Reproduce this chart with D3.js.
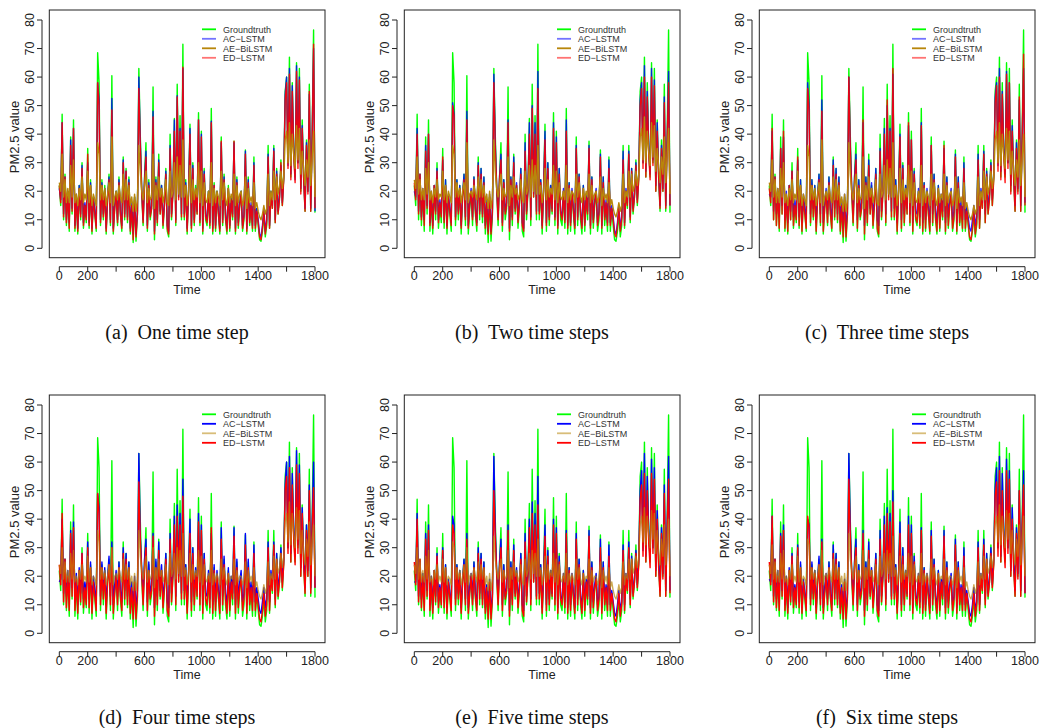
<!DOCTYPE html>
<html>
<head>
<meta charset="utf-8">
<script src="https://d3js.org/d3.v7.min.js"></script>
<style>
  body { margin: 0; background: #fff; }
  svg text { font-family: "Liberation Sans", Arial, sans-serif; }
  .caption { font-family: "Liberation Serif", "Times New Roman", serif; white-space: pre; }
</style>
</head>
<body>
<svg width="1040" height="728"></svg>
<script>
// values read every 10 time steps, 0..1800
var timeStep = 10;
var xTicks = [0, 200, 400, 600, 800, 1000, 1200, 1400, 1600, 1800];
var xLabels = [0, 200, 600, 1000, 1400, 1800];
var yTicks = [0, 10, 20, 30, 40, 50, 60, 70, 80];
var seriesNames = ["Groundtruth", "AC\u2212LSTM", "AE\u2212BiLSTM", "ED\u2212LSTM"];
var captions = ["(a)  One time step", "(b)  Two time steps", "(c)  Three time steps",
                "(d)  Four time steps", "(e)  Five time steps", "(f)  Six time steps"];

var groundtruth = [22,15,47,10,26,8,20,6,39,12, 45,6,18,5,22,10,30,7,15,9, 35,7,24,5,18,12,6,68.5,58,8,
  24,10,22,5,18,26,8,60.5,5,14, 20,8,25,12,6,32,10,28,9,25, 5,15,2,18,2.5,12,63,40,20,8,
  25,37,6,24,10,14,56.5,3,25,8, 33,12,22,7,15,28,6,4,40,10, 20,45.5,8,57.5,18,46.5,10,71.5,10,24,
  5,20,43.5,6,30,8,22,12,47.5,8, 41,5,28,10,8,20,7,49,5,23, 6,20,12,5,39,8,26,10,5,22,
  6,18,10,37.5,5,25,7,15,20,6, 10,34.5,5,25,8,15,6,32,6,14, 8,3,2.5,6,12,4,8,36,7,20,
  14,36,9,28,12,18,31,15,25,55, 60,30,67,25,58,35,25,65,30,63, 20,45,25,13,38,20,57.5,13,40,76.5, 12.5];

var ac1 = [21,17,44,12,25,10,20,9,38,14, 42,8,19,7,22,12,29,9,16,11, 30,9,23,7,18,13,8,58,52,10,
  23,12,21,7,18,25,10,52.5,7,15, 20,10,24,13,8,31,12,27,11,24, 7,16,5,18,5,13,60,38,21,10,
  24,34,8,23,12,15,48,6,24,10, 31,13,22,9,16,27,8,6,36,12, 20,45,10,53.5,18,42,12,63,12,23,
  7,20,42,8,29,10,21,13,45,10, 40,7,27,12,10,20,9,44.5,7,22, 8,20,13,7,37,10,25,12,7,21,
  8,18,12,37,7,24,9,16,20,8, 12,34,7,24,10,16,8,30,8,14, 10,5,4,8,14,6,10,33,8,20,
  15,35,10,27,13,18,29,16,25,54, 60,29,63,26,57,34,24,64,30,60, 21,43,25,14,37,20,54,14,39,70, 13];
var ed1 = [22,16,44,11,25,9,19,7,36,13, 42,7,18,6,21,11,28,8,15,10, 33,8,22,6,17,12,7,58,50,9,
  22,11,20,6,17,24,9,48.5,6,14, 19,9,23,12,7,30,11,27,10,23, 6,15,3,17,4,12,56,36,20,9,
  23,32,7,22,11,14,46,5,23,9, 30,12,21,8,15,26,7,5,35,11, 19,41,9,53,17,41,11,63.5,11,22,
  6,19,40,7,28,9,20,12,45,9, 39,6,26,11,9,19,8,44,6,22, 7,19,12,6,37.5,9,24,11,6,21,
  7,17,11,37.5,6,23,8,15,19,7, 11,33,6,23,9,15,7,29,7,13, 9,4,3,7,13,5,9,32,7,19,
  14,34,9,26,12,17,30,15,24,52, 58,28,61,24,55,33,23,62,28,59, 19,42,24,13,36,19,55,13,38,71.5, 14];
var ae1 = [23,20,33,18,24,16,21,16,29,18, 31,16,19,15,21,17,25,16,19,17, 27,16,22,15,19,17,15,37,33,17,
  22,17,21,15,19,23,16,39,15,18, 20,17,22,18,16,26,17,24,17,22, 15,18,13,19,13,17,36,27,20,17,
  22,27,16,21,17,18,33,14,22,17, 25,18,21,16,19,24,16,15,27,18, 20,30,17,32,19,29,18,38,18,22,
  15,20,29,16,24,17,21,18,30,16, 27,15,23,17,16,20,16,30,15,21, 16,20,18,15,27,17,23,17,15,21,
  16,19,17,26,15,22,16,19,20,15, 17,25,14,21,16,18,15,23,14,16, 13,11,10,12,15,12,14,26,15,20,
  17,27,17,25,19,22,27,21,25,38, 41,30,44,29,40,33,28,43,31,42, 26,34,28,22,31,25,38,22,32,41, 18];

var ac2 = [20,18,42,13,26,11,21,10,36,15, 40,9,20,8,22,13,28,10,17,12, 31,10,24,8,19,14,9,51,47,11,
  24,13,22,8,19,26,11,48,8,16, 21,11,25,14,9,30,13,28,12,25, 8,17,6,19,6,14,61,37,22,11,
  25,33,9,24,13,16,45,7,25,11, 32,14,23,10,17,28,9,7,37,13, 21,44,11,50,19,44,13,62,13,24,
  8,21,41,9,30,11,22,14,44,11, 39,8,28,13,11,21,10,45,8,23, 9,21,14,8,36,11,26,13,8,22,
  9,19,13,36,8,25,10,17,21,9, 13,33,8,25,11,17,9,31,9,15, 11,6,5,9,15,7,11,34,9,21,
  16,34,11,28,14,19,30,17,26,52, 58,30,64,27,55,35,26,63,31,59, 22,44,26,15,36,21,53,15,38,62, 15];
var ed2 = [23,17,40,12,26,10,20,8,34,14, 40,8,19,7,22,12,27,9,16,11, 32,9,22,7,18,13,8,50,46,10,
  22,12,21,7,18,24,10,45,7,15, 20,10,24,13,8,29,12,26,11,23, 7,16,5,18,5,13,58,35,21,10,
  24,31,8,23,12,15,44,6,24,10, 30,13,22,9,16,26,8,6,34,12, 20,40,10,49,18,40,12,56,12,23,
  7,20,38,8,28,10,21,13,42,10, 37,7,26,12,10,20,9,41,7,22, 8,20,13,7,35,10,25,12,7,21,
  8,18,12,35,7,24,9,16,20,8, 12,32,7,23,10,16,8,28,8,14, 10,5,4,8,14,6,10,31,8,20,
  15,33,10,27,13,18,29,16,24,50, 56,28,60,25,53,33,24,60,29,57, 20,41,25,14,35,20,51,14,37,58, 15];
var ae2 = [24,21,32,19,24,17,21,17,28,19, 30,17,20,16,21,18,24,17,19,18, 27,17,22,16,20,18,16,36,33,18,
  23,18,21,16,20,23,17,37,16,19, 20,18,22,19,17,25,18,24,18,22, 16,19,14,20,14,18,38,27,21,18,
  22,26,17,21,18,19,32,15,22,18, 25,19,21,17,19,24,17,16,27,19, 21,29,18,31,20,29,19,36,19,22,
  16,20,28,17,24,18,21,19,29,17, 27,16,23,18,17,20,17,29,16,21, 17,20,19,16,26,18,23,18,16,21,
  17,20,18,26,16,22,17,19,20,16, 18,25,15,21,17,19,16,23,15,17, 14,12,11,13,16,13,15,26,16,20,
  18,27,18,26,20,22,27,22,26,39, 42,31,46,30,41,34,29,44,32,43, 27,35,29,23,32,26,39,23,33,42, 19];

var ac3 = [19,18,41,13,25,12,21,11,35,15, 39,10,20,9,22,13,27,11,17,12, 31,11,24,9,19,14,10,58,50,12,
  24,14,22,9,19,26,12,52,9,16, 21,12,25,14,10,31,14,28,12,25, 9,17,7,19,7,14,60,36,22,12,
  25,33,10,24,13,16,44,8,25,12, 31,14,23,11,17,28,10,8,35,13, 21,42,12,50,19,42,13,61,14,24,
  9,21,40,10,29,12,22,14,43,12, 38,9,27,13,12,21,11,44,9,23, 10,21,14,9,36,12,26,13,9,22,
  10,19,13,35,9,25,11,17,21,10, 13,33,9,25,12,17,10,30,10,15, 11,7,6,10,15,8,11,33,10,21,
  16,34,12,27,14,19,30,17,26,53, 58,29,63,27,55,35,26,62,30,58, 22,43,26,15,37,21,52,15,38,63, 16];
var ed3 = [21,16,42,10,25,8,19,7,35,12, 41,7,18,6,22,10,27,8,15,10, 32,8,22,6,17,12,7,56,48,9,
  22,11,20,6,17,24,9,48,6,14, 19,9,23,12,7,29,11,26,10,23, 6,15,4,17,4,12,60,35,20,9,
  23,31,7,22,11,14,45,5,23,9, 29,12,21,8,15,26,7,5,34,11, 19,40,9,52,17,41,11,63,11,22,
  6,19,39,7,28,9,20,12,44,9, 38,6,26,11,9,19,8,43,6,22, 7,19,12,6,36,9,24,11,6,21,
  7,17,11,36,6,23,8,15,19,7, 11,32,6,23,9,15,7,28,7,13, 9,4,3,7,13,5,9,31,7,19,
  14,33,9,26,12,17,29,15,24,51, 57,27,60,24,54,33,23,61,28,58, 19,41,24,13,35,19,53,13,38,68, 15];
var ae3 = [23,20,31,18,24,16,21,16,28,18, 30,16,19,15,21,17,24,16,19,17, 27,16,22,15,19,17,15,36,32,17,
  22,17,21,15,19,23,16,38,15,18, 20,17,22,18,16,25,17,24,17,22, 15,18,13,19,13,17,37,26,20,17,
  22,26,16,21,17,18,32,14,22,17, 25,18,21,16,19,24,16,15,26,18, 20,29,17,31,19,28,18,37,18,22,
  15,20,28,16,24,17,21,18,29,16, 27,15,23,17,16,20,16,29,15,21, 16,20,18,15,26,17,23,17,15,21,
  16,19,17,26,15,22,16,19,20,15, 17,25,14,21,16,18,15,23,14,16, 13,11,10,12,15,12,14,25,15,20,
  17,27,17,25,19,22,27,21,25,38, 41,30,44,29,40,33,28,42,31,41, 26,34,28,22,31,25,38,22,32,40, 18];

var ac4 = [18,19,40,14,26,13,22,12,36,16, 39,11,21,10,23,14,28,12,18,13, 32,12,25,10,20,15,11,49,44,13,
  25,15,23,10,20,27,13,32,10,17, 22,13,25,15,11,30,15,28,13,25, 10,18,8,20,8,15,63,34,23,13,
  26,33,11,25,14,17,35,9,26,13, 32,15,24,12,18,28,11,9,35,14, 22,41,13,45,20,42,14,54,15,24,
  10,22,40,11,30,13,23,15,42,13, 38,10,28,14,13,22,12,35,10,24, 11,22,15,10,37,13,27,14,10,23,
  11,20,14,37,10,26,12,18,22,11, 14,35,10,26,13,18,11,31,11,16, 12,8,7,11,16,9,12,32,11,22,
  17,32,12,28,15,20,30,18,26,52, 60,30,62,28,56,36,27,64,31,59, 23,44,27,16,38,22,52,16,39,60, 16];
var ed4 = [24,17,42,11,26,9,20,8,35,13, 37,8,19,7,22,11,28,9,16,10, 30,9,23,7,18,13,8,49,42,10,
  23,12,21,7,18,24,10,30,7,14, 20,10,23,13,8,28,12,26,10,23, 7,16,5,18,5,13,53,33,21,10,
  23,30,8,22,12,15,34,6,23,10, 29,13,22,9,16,26,8,6,33,11, 20,38,10,41,18,38,12,48,12,22,
  7,20,35,8,28,10,21,13,39,10, 36,7,26,12,10,20,9,37,7,22, 8,20,13,7,33,10,24,12,7,21,
  8,18,12,34,7,23,9,16,19,8, 12,31,7,23,10,16,8,28,8,14, 10,5,4,8,14,6,10,30,8,20,
  15,31,10,26,13,18,28,16,24,50, 55,28,58,25,52,33,24,59,28,56, 20,42,24,14,36,20,50,14,37,51, 16];
var ae4 = [24,21,30,19,25,18,22,18,28,19, 29,18,20,17,22,19,24,18,20,18, 27,18,23,17,20,19,17,36,32,19,
  23,19,22,17,20,24,18,30,17,20, 21,19,23,20,18,26,19,24,19,23, 17,20,15,21,15,19,36,27,22,19,
  23,27,18,22,19,20,30,16,23,19, 26,20,22,18,20,24,18,17,28,20, 22,28,19,30,21,29,20,35,20,23,
  17,21,28,18,24,19,22,20,29,18, 27,17,24,19,18,21,18,29,17,21, 18,21,19,17,26,19,23,19,17,21,
  18,20,19,26,17,22,18,20,20,17, 19,25,16,22,18,20,17,23,16,18, 15,13,12,14,17,14,16,25,17,21,
  19,27,19,26,21,23,28,23,27,39, 42,32,46,31,42,35,30,44,33,43, 28,36,29,24,33,27,39,24,33,38, 20];

var ac5 = [18,18,42,13,25,12,21,11,35,15, 38,10,20,9,22,13,28,11,17,12, 30,11,24,9,19,14,10,41,38,12,
  24,14,22,9,19,26,12,35,9,16, 21,12,25,14,10,30,14,28,12,25, 9,17,8,19,7,14,62,36,22,12,
  25,33,10,24,13,16,38,8,25,12, 31,14,23,11,17,28,10,8,35,13, 21,40,12,46,19,42,13,55,14,24,
  9,21,38,10,29,12,22,14,40,12, 37,9,27,13,12,21,11,36,9,23, 10,21,14,9,35,12,26,13,9,22,
  10,19,13,36,9,25,11,17,21,10, 13,33,9,25,12,17,10,31,10,15, 11,7,6,10,15,8,11,31,10,21,
  16,32,12,27,14,19,29,17,26,50, 57,29,63,27,55,35,26,61,30,58, 22,43,26,15,37,21,52,15,38,62, 15];
var ed5 = [25,17,40,11,26,9,20,8,33,13, 36,8,19,7,22,11,27,9,16,10, 29,9,23,7,18,13,8,38,35,10,
  23,12,21,7,18,24,10,33,7,14, 20,10,23,13,8,28,12,26,10,23, 7,16,5,18,5,13,50,33,21,10,
  23,30,8,22,12,15,36,6,23,10, 29,13,21,9,16,26,8,6,32,11, 20,37,10,42,18,38,12,45,12,22,
  7,20,34,8,27,10,21,13,38,10, 35,7,25,12,10,20,9,35,7,22, 8,20,13,7,33,10,24,12,7,21,
  8,18,12,34,7,23,9,16,19,8, 12,30,7,23,10,16,8,27,8,14, 10,5,4,8,14,6,10,29,8,20,
  15,30,10,26,13,18,28,16,24,47, 52,27,56,25,50,32,23,56,28,54, 20,40,23,13,35,19,49,13,36,54, 14];
var ae5 = [24,21,30,19,25,18,22,18,27,19, 29,18,20,17,22,19,24,18,20,18, 26,18,23,17,20,19,17,32,30,19,
  23,19,22,17,20,24,18,30,17,20, 21,19,23,20,18,25,19,24,19,23, 17,20,15,21,15,19,34,26,22,19,
  23,26,18,22,19,20,29,16,23,19, 25,20,22,18,20,24,18,17,26,20, 22,28,19,29,21,28,20,33,20,23,
  17,21,27,18,24,19,22,20,28,18, 26,17,24,19,18,21,18,28,17,21, 18,21,19,17,26,19,23,19,17,21,
  18,20,19,26,17,22,18,20,20,17, 19,25,16,22,18,20,17,23,16,18, 15,13,12,14,17,14,16,25,17,21,
  19,26,19,26,21,23,27,23,27,38, 41,32,44,31,41,35,30,43,33,42, 28,36,29,24,33,27,38,24,33,40, 20];

var ac6 = [19,18,41,13,26,12,22,11,35,15, 38,10,20,9,23,13,28,11,17,12, 31,11,25,9,19,14,10,40,38,12,
  25,14,22,9,19,27,12,33,9,16, 21,12,25,14,10,31,14,28,12,25, 9,17,8,19,7,14,63,37,22,12,
  25,33,10,24,13,16,36,8,25,12, 32,14,23,11,17,28,10,8,36,13, 21,41,12,44,19,42,13,50,14,24,
  9,21,39,10,30,12,22,14,41,12, 38,9,27,13,12,21,11,37,9,23, 10,21,14,9,36,12,26,13,9,22,
  10,19,13,36,9,25,11,17,21,10, 13,33,9,25,12,17,10,30,10,15, 11,7,6,10,16,8,11,32,10,21,
  16,33,12,28,14,19,30,17,26,51, 58,30,62,27,56,36,26,61,30,57, 22,44,26,15,37,21,50,15,38,57, 14];
var ed6 = [25,17,41,11,26,9,20,8,34,13, 36,8,19,7,22,11,27,9,16,10, 30,9,23,7,18,13,8,41,37,10,
  23,12,21,7,18,24,10,32,7,14, 20,10,23,13,8,28,12,26,10,23, 7,16,5,18,5,13,54,34,21,10,
  23,30,8,22,12,15,35,6,23,10, 29,13,22,9,16,26,8,6,33,11, 20,38,10,42,18,39,12,46,12,22,
  7,20,35,8,27,10,21,13,38,10, 35,7,25,12,10,20,9,36,7,22, 8,20,13,7,34,10,24,12,7,21,
  8,18,12,34,7,23,9,16,19,8, 12,31,7,23,10,16,8,27,8,14, 10,5,4,8,14,6,10,30,8,20,
  15,31,10,26,13,18,28,16,24,48, 53,27,57,25,50,32,23,57,28,54, 20,40,23,13,35,19,50,13,37,52, 14];
var ae6 = [24,21,31,19,25,18,22,18,28,19, 29,18,20,17,22,19,24,18,20,18, 27,18,23,17,20,19,17,33,31,19,
  23,19,22,17,20,24,18,29,17,20, 21,19,23,20,18,26,19,24,19,23, 17,20,15,21,15,19,35,26,22,19,
  23,27,18,22,19,20,29,16,23,19, 26,20,22,18,20,24,18,17,27,20, 22,28,19,29,21,28,20,34,20,23,
  17,21,27,18,24,19,22,20,28,18, 27,17,24,19,18,21,18,28,17,21, 18,21,19,17,26,19,23,19,17,21,
  18,20,19,26,17,22,18,20,20,17, 19,25,16,22,18,20,17,23,16,18, 15,13,12,14,17,14,16,25,17,21,
  19,27,19,26,21,23,27,23,27,38, 41,32,45,31,41,35,30,43,33,42, 28,36,29,24,33,27,38,24,33,41, 20];

var panels = [
  {ac: ac1, ae: ae1, ed: ed1}, {ac: ac2, ae: ae2, ed: ed2}, {ac: ac3, ae: ae3, ed: ed3},
  {ac: ac4, ae: ae4, ed: ed4}, {ac: ac5, ae: ae5, ed: ed5}, {ac: ac6, ae: ae6, ed: ed6}
];

var svg = d3.select("svg");

var x = d3.scaleLinear().domain([0, 1800]).range([59.3, 315]);
var y = d3.scaleLinear().domain([0, 80]).range([248.3, 20]);

var line = d3.line()
    .x(function(d, i) { return x(i * timeStep); })
    .y(function(d) { return y(d); });

// top row: blue/red faded, bottom row: goldenrod faded
function colors(row) {
  if (row == 0) return [
    {c: "#00ff00", o: 1, lo: 1}, {c: "#0000ff", o: 0.85, lo: 0.55},
    {c: "#b8860b", o: 1, lo: 1}, {c: "#ff0000", o: 0.9, lo: 0.55}];
  return [
    {c: "#00ff00", o: 1, lo: 1}, {c: "#0000ff", o: 1, lo: 1},
    {c: "#b8860b", o: 0.7, lo: 0.55}, {c: "#ff0000", o: 1, lo: 1}];
}

panels.forEach(function(p, k) {
  var col = k % 3, row = Math.floor(k / 3);
  var g = svg.append("g").attr("transform", "translate(" + (col * 355) + "," + (row * 385) + ")");
  var cs = colors(row);

  // draw order: groundtruth, AC, ED, AE
  var order = [[groundtruth, 0], [p.ac, 1], [p.ed, 3], [p.ae, 2]];
  order.forEach(function(s) {
    g.append("path")
      .datum(s[0])
      .attr("fill", "none")
      .attr("stroke", cs[s[1]].c)
      .attr("stroke-opacity", cs[s[1]].o)
      .attr("stroke-width", 1.4)
      .attr("stroke-linejoin", "round")
      .attr("d", line);
  });

  g.append("rect")
    .attr("x", 49.3).attr("y", 10)
    .attr("width", 275.7).attr("height", 247.7)
    .attr("fill", "none").attr("stroke", "#222").attr("stroke-width", 1);

  // x axis
  var xa = g.append("g").attr("transform", "translate(0,266.7)");
  xa.append("line").attr("x1", x(0)).attr("x2", x(1800)).attr("stroke", "#222");
  xa.selectAll(".tk").data(xTicks).enter().append("line")
    .attr("x1", function(d) { return x(d); }).attr("x2", function(d) { return x(d); })
    .attr("y1", 0).attr("y2", 5).attr("stroke", "#222");
  xa.selectAll("text").data(xLabels).enter().append("text")
    .attr("x", function(d) { return x(d); }).attr("y", 13)
    .attr("text-anchor", "middle").attr("font-size", 12.5).attr("fill", "#222")
    .text(function(d) { return d; });

  // y axis
  var ya = g.append("g").attr("transform", "translate(42,0)");
  ya.append("line").attr("y1", y(0)).attr("y2", y(80)).attr("stroke", "#222");
  ya.selectAll(".tk").data(yTicks).enter().append("line")
    .attr("y1", function(d) { return y(d); }).attr("y2", function(d) { return y(d); })
    .attr("x1", 0).attr("x2", -5).attr("stroke", "#222");
  ya.selectAll("text").data(yTicks).enter().append("text")
    .attr("transform", function(d) { return "translate(-8," + y(d) + ") rotate(-90)"; })
    .attr("text-anchor", "middle").attr("font-size", 12.5).attr("fill", "#222")
    .text(function(d) { return d; });

  g.append("text").attr("x", 187).attr("y", 294)
    .attr("text-anchor", "middle").attr("font-size", 12.5).attr("fill", "#222")
    .text("Time");
  g.append("text").attr("transform", "translate(19,137) rotate(-90)")
    .attr("text-anchor", "middle").attr("font-size", 13).attr("fill", "#222")
    .text("PM2.5 value");

  // legend
  var lg = g.append("g");
  seriesNames.forEach(function(name, i) {
    var yy = 29.3 + i * 9.5;
    lg.append("line").attr("x1", 202).attr("x2", 216).attr("y1", yy).attr("y2", yy)
      .attr("stroke", cs[i].c).attr("stroke-opacity", cs[i].lo).attr("stroke-width", 1.8);
    lg.append("text").attr("x", 223).attr("y", yy + 3.2)
      .attr("font-size", 9).attr("fill", "#333").text(name);
  });

  g.append("text").attr("class", "caption")
    .attr("x", 177).attr("y", 339)
    .attr("text-anchor", "middle").attr("font-size", 20).attr("fill", "#111")
    .text(captions[k]);
});
</script>
</body>
</html>
